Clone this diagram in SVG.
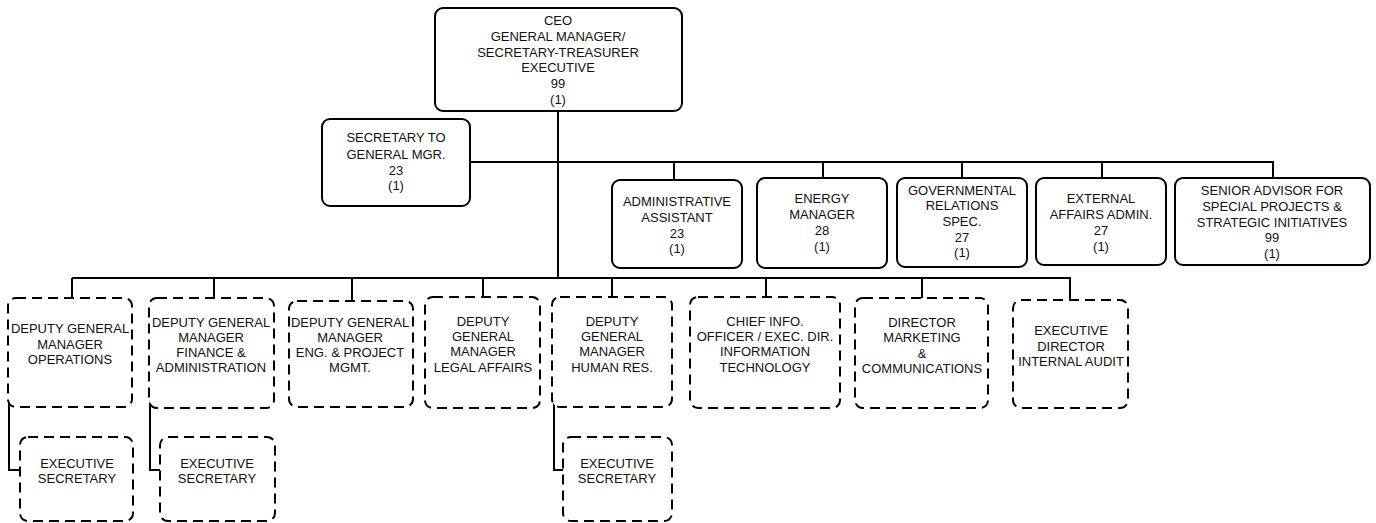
<svg xmlns="http://www.w3.org/2000/svg" width="1376" height="523" viewBox="0 0 1376 523">
<style>
.solid{fill:#fff;stroke:#000;stroke-width:2}
.dash{fill:#fff;stroke:#000;stroke-width:2;stroke-dasharray:10 6}
.ln{fill:none;stroke:#000;stroke-width:2}
text{font-family:"Liberation Sans",Arial,sans-serif;font-size:13px;fill:#111;text-anchor:middle}
</style>
<rect width="1376" height="523" fill="#fff"/>
<g id="connectors">
<path class="ln" d="M558 111V278"/>
<path class="ln" d="M470 162H1274"/>
<path class="ln" d="M674 162V180M823 162V178M962 162V178M1102 162V178M1273 162V178"/>
<path class="ln" d="M72 278H1071"/>
<path class="ln" d="M72 278V298M214 278V298M352 278V301M483 278V297M612 278V297M766 278V297M922 278V298M1070 278V300"/>
<path class="ln" d="M9 372V470H20M150 380V470H160M554 380V470H563"/>
</g>
<g id="ceo"><rect class="solid" x="435" y="8" width="247" height="103" rx="8"/>
<text x="558" y="25">CEO</text><text x="558" y="41">GENERAL MANAGER/</text><text x="558" y="56.5">SECRETARY-TREASURER</text><text x="558" y="72">EXECUTIVE</text><text x="558" y="88">99</text><text x="558" y="104">(1)</text></g>
<g id="sec-gm"><rect class="solid" x="322" y="119" width="148" height="87" rx="8"/>
<text x="396" y="142">SECRETARY TO</text><text x="396" y="159">GENERAL MGR.</text><text x="396" y="175">23</text><text x="396" y="190">(1)</text></g>
<g id="admin-asst"><rect class="solid" x="612" y="180" width="130" height="88" rx="8"/>
<text x="677" y="206">ADMINISTRATIVE</text><text x="677" y="222">ASSISTANT</text><text x="677" y="238">23</text><text x="677" y="253">(1)</text></g>
<g id="energy-mgr"><rect class="solid" x="757" y="178" width="130" height="90" rx="8"/>
<text x="822" y="203">ENERGY</text><text x="822" y="219">MANAGER</text><text x="822" y="235">28</text><text x="822" y="251">(1)</text></g>
<g id="gov-rel"><rect class="solid" x="897" y="178" width="130" height="89" rx="8"/>
<text x="962" y="195">GOVERNMENTAL</text><text x="962" y="210">RELATIONS</text><text x="962" y="225.5">SPEC.</text><text x="962" y="241.5">27</text><text x="962" y="257">(1)</text></g>
<g id="ext-affairs"><rect class="solid" x="1036" y="178" width="130" height="87" rx="8"/>
<text x="1101" y="203">EXTERNAL</text><text x="1101" y="219">AFFAIRS ADMIN.</text><text x="1101" y="235">27</text><text x="1101" y="251">(1)</text></g>
<g id="senior-advisor"><rect class="solid" x="1175" y="178" width="195" height="87" rx="8"/>
<text x="1272" y="195">SENIOR ADVISOR FOR</text><text x="1272" y="211">SPECIAL PROJECTS &amp;</text><text x="1272" y="227">STRATEGIC INITIATIVES</text><text x="1272" y="242">99</text><text x="1272" y="258">(1)</text></g>
<g id="dgm-ops"><rect class="dash" x="8" y="298" width="124" height="109" rx="8"/>
<text x="70" y="333">DEPUTY GENERAL</text><text x="70" y="349">MANAGER</text><text x="70" y="364">OPERATIONS</text></g>
<g id="dgm-fin"><rect class="dash" x="149" y="298" width="125" height="110" rx="8"/>
<text x="211" y="327">DEPUTY GENERAL</text><text x="211" y="342">MANAGER</text><text x="211" y="357">FINANCE &amp;</text><text x="211" y="372">ADMINISTRATION</text></g>
<g id="dgm-eng"><rect class="dash" x="289" y="301" width="124" height="106" rx="8"/>
<text x="350" y="327">DEPUTY GENERAL</text><text x="350" y="342">MANAGER</text><text x="350" y="357">ENG. &amp; PROJECT</text><text x="350" y="372">MGMT.</text></g>
<g id="dgm-legal"><rect class="dash" x="425" y="297" width="115" height="111" rx="8"/>
<text x="483" y="326">DEPUTY</text><text x="483" y="341">GENERAL</text><text x="483" y="356">MANAGER</text><text x="483" y="372">LEGAL AFFAIRS</text></g>
<g id="dgm-hr"><rect class="dash" x="552" y="297" width="120" height="110" rx="8"/>
<text x="612" y="326">DEPUTY</text><text x="612" y="341">GENERAL</text><text x="612" y="356">MANAGER</text><text x="612" y="372">HUMAN RES.</text></g>
<g id="cio"><rect class="dash" x="690" y="297" width="150" height="111" rx="8"/>
<text x="765" y="326">CHIEF INFO.</text><text x="765" y="341">OFFICER / EXEC. DIR.</text><text x="765" y="356">INFORMATION</text><text x="765" y="372">TECHNOLOGY</text></g>
<g id="dir-marketing"><rect class="dash" x="855" y="298" width="133" height="110" rx="8"/>
<text x="922" y="327">DIRECTOR</text><text x="922" y="342">MARKETING</text><text x="922" y="358">&amp;</text><text x="922" y="373">COMMUNICATIONS</text></g>
<g id="exec-audit"><rect class="dash" x="1013" y="300" width="115" height="108" rx="8"/>
<text x="1071" y="335">EXECUTIVE</text><text x="1071" y="351">DIRECTOR</text><text x="1071" y="366">INTERNAL AUDIT</text></g>
<g id="exec-sec-1"><rect class="dash" x="20" y="437" width="113" height="84" rx="8"/>
<text x="77" y="468">EXECUTIVE</text><text x="77" y="483">SECRETARY</text></g>
<g id="exec-sec-2"><rect class="dash" x="160" y="437" width="115" height="84" rx="8"/>
<text x="217" y="468">EXECUTIVE</text><text x="217" y="483">SECRETARY</text></g>
<g id="exec-sec-3"><rect class="dash" x="563" y="437" width="109" height="84" rx="8"/>
<text x="617" y="468">EXECUTIVE</text><text x="617" y="483">SECRETARY</text></g>
</svg>
